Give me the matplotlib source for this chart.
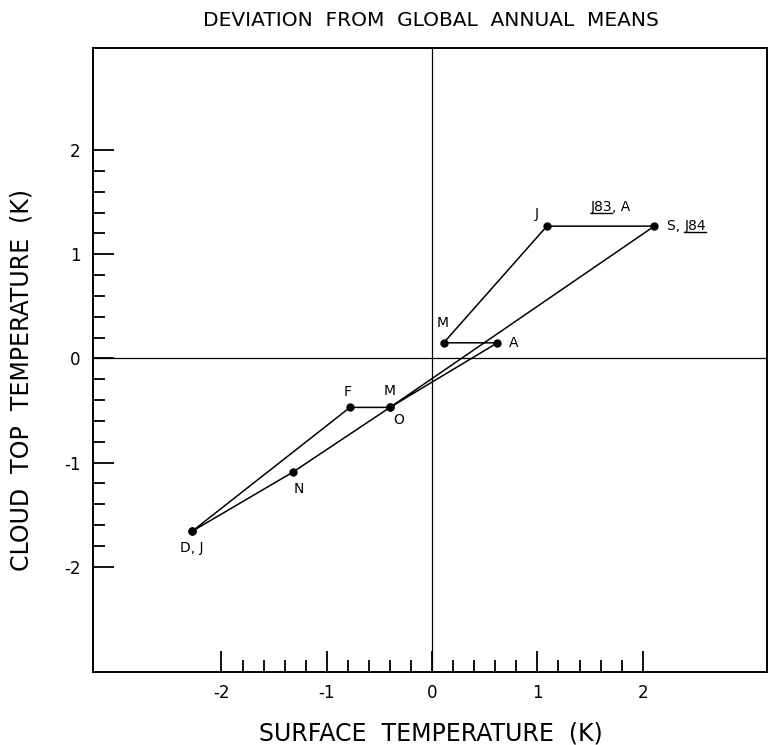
import matplotlib
matplotlib.use("Agg")
import matplotlib.pyplot as plt
import numpy as np
from matplotlib.lines import Line2D

plt.rcParams['font.family'] = ['DejaVu Sans']
plt.rcParams['axes.unicode_minus'] = False

# Data (path of monthly deviations, in order)
surface_temp = [-2.28, -0.78, -0.40, 0.62, 0.11, 1.09, 2.11, -0.40, -1.32, -2.28]
cloud_top_temp = [-1.66, -0.47, -0.47, 0.15, 0.15, 1.27, 1.27, -0.47, -1.09, -1.66]

# Point labels: (x, y, text, offset in points, ha, va)
point_labels = [
    (-2.28, -1.66, "D, J", (0, -12), "center", "center"),
    (-0.78, -0.47, "F", (-2, 11), "center", "center"),
    (-0.40, -0.47, "M", (0, 12), "center", "center"),
    (-0.40, -0.47, "O", (6, -9), "center", "center"),
    (-1.32, -1.09, "N", (4, -12), "center", "center"),
    (0.62, 0.15, "A", (12, 0), "center", "center"),
    (0.11, 0.15, "M", (-1, 14), "center", "center"),
    (1.09, 1.27, "J", (-7, 9), "center", "center"),
]

x_ticks_major = [-2, -1, 0, 1, 2]
x_tick_labels = ["-2", "-1", "0", "1", "2"]
y_ticks_major = [-2, -1, 0, 1, 2]
y_tick_labels = ["-2", "-1", "0", "1", "2"]
minor_ticks = [round(v, 1) for v in np.arange(-2.0, 2.01, 0.2)]

title = "DEVIATION  FROM  GLOBAL  ANNUAL  MEANS"
xlabel = "SURFACE  TEMPERATURE  (K)"
ylabel = "CLOUD  TOP  TEMPERATURE  (K)"

W, H = 769, 745
fig = plt.figure(figsize=(W / 100, H / 100), dpi=100)
left, right, top, bottom = 93, 767, 48, 672
ax = fig.add_axes([left / W, 1 - bottom / H, (right - left) / W, (bottom - top) / H])

ax.set_xlim(-3.22, 3.18)
ax.set_ylim(-3.01, 2.98)

ax.axhline(0, color='black', lw=0.9, zorder=1)
ax.axvline(0, color='black', lw=0.9, zorder=1)

ax.plot(surface_temp, cloud_top_temp, color='black', lw=1.1,
        marker='o', markersize=5, markerfacecolor='black', zorder=3)

for x, y, t, off, ha, va in point_labels:
    ax.annotate(t, xy=(x, y), xytext=off, textcoords='offset points',
                ha=ha, va=va, fontsize=10)

# composite labels with underlines
t_j83 = ax.annotate("J83", xy=(1.09, 1.27), xytext=(47, 14), textcoords='offset points',
                    ha='right', va='center', fontsize=10)
t_a = ax.annotate(", A", xy=(1, 0), xycoords=t_j83, ha='left', va='bottom', fontsize=10)
t_s = ax.annotate("S, ", xy=(2.11, 1.27), xytext=(9, 0), textcoords='offset points',
                  ha='left', va='center', fontsize=10)
t_j84 = ax.annotate("J84", xy=(1, 0), xycoords=t_s, ha='left', va='bottom', fontsize=10)

ax.set_xticks(x_ticks_major)
ax.set_xticklabels(x_tick_labels, fontsize=12)
ax.set_yticks(y_ticks_major)
ax.set_yticklabels(y_tick_labels, fontsize=12)
ax.set_xticks([m for m in minor_ticks if m not in x_ticks_major], minor=True)
ax.set_yticks([m for m in minor_ticks if m not in y_ticks_major], minor=True)
ax.tick_params(which='major', direction='in', length=15, width=1.3, pad=9)
ax.tick_params(which='minor', direction='in', length=8.5, width=1.3)
ax.tick_params(axis='x', which='both', top=False)
ax.tick_params(axis='y', which='both', right=False)

for s in ax.spines.values():
    s.set_linewidth(1.4)

fig.text(431 / W, 1 - 20 / H, title, ha='center', va='center', fontsize=14.5)
fig.text(431 / W, 1 - 733 / H, xlabel, ha='center', va='center', fontsize=17)
fig.text(22 / W, 1 - 380 / H, ylabel, ha='center', va='center', rotation=90, fontsize=17)

fig.canvas.draw()
r = fig.canvas.get_renderer()
for t in (t_j83, t_j84):
    bb = t.get_window_extent(r)
    yline = bb.y0 + 1
    fig.add_artist(Line2D([bb.x0 / W, bb.x1 / W], [yline / H, yline / H],
                          transform=fig.transFigure, color='black', lw=1.0))

fig.savefig("out.png", dpi=100)
